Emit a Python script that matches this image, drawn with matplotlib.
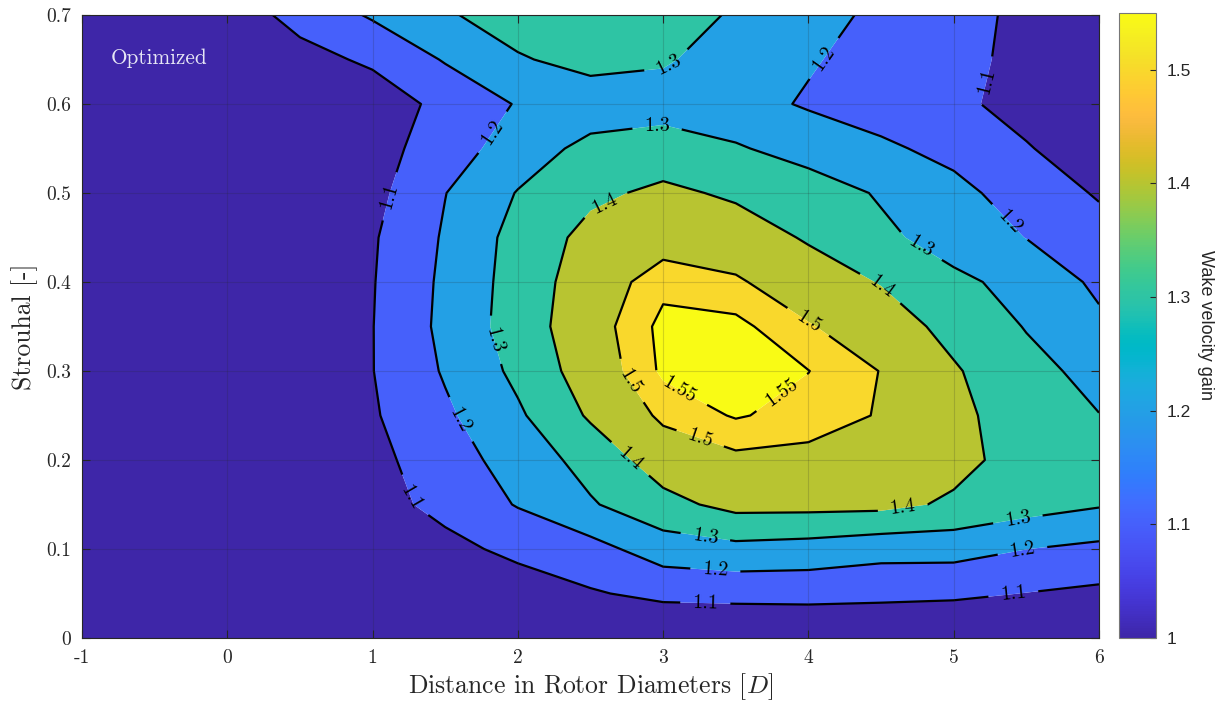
import numpy as np
import matplotlib
matplotlib.use("Agg")
import matplotlib.pyplot as plt
from matplotlib.colors import LinearSegmentedColormap, Normalize
from matplotlib.cm import ScalarMappable

# ---------------- data ----------------
distance = [-1, -0.5, 0, 0.5, 1, 1.5, 2, 2.5, 3, 3.5, 4, 4.5, 5, 5.5, 6]
strouhal = [0.0, 0.05, 0.10, 0.15, 0.20, 0.25, 0.30, 0.35, 0.40, 0.45, 0.50, 0.55, 0.60, 0.65, 0.70]
gain = [
    [1.0, 1.0, 1.0, 1.0, 1.0, 1.0, 1.0, 1.0, 1.0, 1.0, 1.0, 1.0, 1.0, 1.0, 1.0],
    [1.0, 1.0, 1.0, 1.005, 1.01, 1.02, 1.045, 1.091, 1.124, 1.13, 1.133, 1.126, 1.118, 1.098, 1.08],
    [1.0, 1.0, 1.002, 1.01, 1.03, 1.07, 1.126, 1.165, 1.25, 1.272, 1.26, 1.235, 1.236, 1.201, 1.177],
    [1.0, 1.0, 1.003, 1.02, 1.06, 1.131, 1.206, 1.29, 1.37, 1.43, 1.43, 1.427, 1.385, 1.342, 1.309],
    [1.0, 1.0, 1.003, 1.025, 1.072, 1.156, 1.24, 1.337, 1.45, 1.485, 1.48, 1.46, 1.43, 1.36, 1.33],
    [1.0, 1.0, 1.004, 1.03, 1.09, 1.183, 1.285, 1.413, 1.515, 1.555, 1.53, 1.495, 1.42, 1.36, 1.302],
    [1.0, 1.0, 1.005, 1.03, 1.098, 1.21, 1.323, 1.452, 1.56, 1.57, 1.551, 1.498, 1.41, 1.33, 1.27],
    [1.0, 1.0, 1.005, 1.03, 1.098, 1.225, 1.346, 1.467, 1.565, 1.565, 1.506, 1.45, 1.37, 1.295, 1.22],
    [1.0, 1.0, 1.006, 1.03, 1.095, 1.22, 1.341, 1.455, 1.535, 1.51, 1.45, 1.395, 1.32, 1.27, 1.18],
    [1.0, 1.002, 1.008, 1.03, 1.09, 1.211, 1.335, 1.43, 1.465, 1.45, 1.39, 1.32, 1.26, 1.198, 1.14],
    [1.0, 1.003, 1.01, 1.03, 1.07, 1.198, 1.305, 1.38, 1.42, 1.385, 1.35, 1.29, 1.225, 1.16, 1.09],
    [1.0, 1.005, 1.015, 1.035, 1.058, 1.154, 1.245, 1.33, 1.345, 1.31, 1.26, 1.215, 1.175, 1.105, 1.06],
    [1.0, 1.01, 1.02, 1.04, 1.05, 1.125, 1.207, 1.24, 1.26, 1.235, 1.19, 1.16, 1.115, 1.075, 1.05],
    [1.01, 1.02, 1.035, 1.07, 1.115, 1.208, 1.29, 1.335, 1.31, 1.259, 1.209, 1.165, 1.122, 1.08, 1.06],
    [1.02, 1.03, 1.05, 1.13, 1.212, 1.288, 1.35, 1.33, 1.325, 1.294, 1.235, 1.18, 1.131, 1.08, 1.06],
]
contour_levels = [1.1, 1.2, 1.3, 1.4, 1.5, 1.55]
x_ticks = [-1, 0, 1, 2, 3, 4, 5, 6]
x_ticklabels = ["-1", "0", "1", "2", "3", "4", "5", "6"]
y_ticks = [0, 0.1, 0.2, 0.3, 0.4, 0.5, 0.6, 0.7]
y_ticklabels = ["0", "0.1", "0.2", "0.3", "0.4", "0.5", "0.6", "0.7"]
cbar_ticks = [1.0, 1.1, 1.2, 1.3, 1.4, 1.5]
cbar_ticklabels = ["1", "1.1", "1.2", "1.3", "1.4", "1.5"]
clim = (1.0, 1.55)

# label placement (layout)
label_positions = [
    (1.10, 0.497), (1.31, 0.16), (3.29, 0.038), (5.41, 0.05), (5.20, 0.627),
    (1.81, 0.57), (1.59, 0.244), (3.36, 0.078), (5.47, 0.101), (5.34, 0.46), (4.10, 0.652),
    (3.03, 0.645), (2.96, 0.575), (1.82, 0.334), (3.29, 0.113), (5.44, 0.135), (4.77, 0.439),
    (2.58, 0.494), (4.51, 0.396), (2.76, 0.199), (4.65, 0.145),
    (3.99, 0.353), (2.75, 0.286), (3.25, 0.222),
    (3.10, 0.275), (3.82, 0.275),
]

# ---------------- parula colormap ----------------
parula_data = [
    [0.2422, 0.1504, 0.6603], [0.2504, 0.1650, 0.7076], [0.2578, 0.1818, 0.7511],
    [0.2647, 0.1978, 0.7952], [0.2706, 0.2147, 0.8364], [0.2751, 0.2342, 0.8710],
    [0.2783, 0.2559, 0.8991], [0.2803, 0.2782, 0.9221], [0.2813, 0.3006, 0.9414],
    [0.2810, 0.3228, 0.9579], [0.2795, 0.3447, 0.9717], [0.2760, 0.3667, 0.9829],
    [0.2699, 0.3892, 0.9906], [0.2602, 0.4123, 0.9952], [0.2440, 0.4358, 0.9988],
    [0.2206, 0.4603, 0.9973], [0.1963, 0.4847, 0.9892], [0.1834, 0.5074, 0.9798],
    [0.1786, 0.5289, 0.9682], [0.1764, 0.5499, 0.9520], [0.1687, 0.5703, 0.9359],
    [0.1540, 0.5902, 0.9218], [0.1460, 0.6091, 0.9079], [0.1380, 0.6276, 0.8973],
    [0.1248, 0.6459, 0.8883], [0.1113, 0.6635, 0.8763], [0.0952, 0.6798, 0.8598],
    [0.0689, 0.6948, 0.8394], [0.0297, 0.7082, 0.8163], [0.0036, 0.7203, 0.7917],
    [0.0067, 0.7312, 0.7660], [0.0433, 0.7411, 0.7394], [0.0964, 0.7500, 0.7120],
    [0.1408, 0.7584, 0.6842], [0.1717, 0.7670, 0.6554], [0.1938, 0.7758, 0.6251],
    [0.2161, 0.7843, 0.5923], [0.2470, 0.7918, 0.5567], [0.2906, 0.7973, 0.5188],
    [0.3406, 0.8008, 0.4789], [0.3909, 0.8029, 0.4354], [0.4456, 0.8024, 0.3909],
    [0.5044, 0.7993, 0.3480], [0.5616, 0.7942, 0.3045], [0.6174, 0.7876, 0.2612],
    [0.6720, 0.7793, 0.2227], [0.7242, 0.7698, 0.1910], [0.7738, 0.7598, 0.1646],
    [0.8203, 0.7498, 0.1535], [0.8634, 0.7406, 0.1596], [0.9035, 0.7330, 0.1774],
    [0.9393, 0.7288, 0.2100], [0.9728, 0.7298, 0.2394], [0.9956, 0.7434, 0.2371],
    [0.9970, 0.7659, 0.2199], [0.9952, 0.7893, 0.2028], [0.9892, 0.8136, 0.1885],
    [0.9786, 0.8386, 0.1766], [0.9676, 0.8639, 0.1643], [0.9610, 0.8890, 0.1537],
    [0.9597, 0.9135, 0.1423], [0.9628, 0.9373, 0.1265], [0.9691, 0.9606, 0.1064],
    [0.9769, 0.9839, 0.0805],
]
parula = LinearSegmentedColormap.from_list("parula", parula_data, N=256)
norm = Normalize(vmin=clim[0], vmax=clim[1])

# ---------------- plotting ----------------
plt.rcParams["mathtext.fontset"] = "cm"
plt.rcParams["axes.unicode_minus"] = False
serif = "cmr10"
txt = "#262626"

fig = plt.figure(figsize=(12.24, 7.05), dpi=100)
ax = fig.add_axes([82 / 1224, 67 / 705, (1099 - 82) / 1224, (638 - 15) / 705])
cax = fig.add_axes([1119 / 1224, 67 / 705, (1156 - 1119) / 1224, (638 - 13) / 705])

X, Y = np.meshgrid(np.array(distance), np.array(strouhal))
Z = np.array(gain)

fill_levels = [min(Z.min(), clim[0]) - 0.01] + contour_levels + [Z.max() + 0.1]
fill_colors = [parula(norm(v)) for v in [Z.min()] + contour_levels]
ax.contourf(X, Y, Z, levels=fill_levels, colors=fill_colors, antialiased=True)
cs = ax.contour(X, Y, Z, levels=contour_levels, colors="k", linewidths=1.6)
labels = ax.clabel(cs, manual=label_positions, inline=True, inline_spacing=9,
                   fmt=lambda v: f"{v:g}", fontsize=14.5)
for t in labels:
    t.set_family(serif)

ax.set_xlim(-1, 6)
ax.set_ylim(0, 0.7)
ax.set_xticks(x_ticks)
ax.set_xticklabels(x_ticklabels, family=serif, fontsize=14, color=txt)
ax.set_yticks(y_ticks)
ax.set_yticklabels(y_ticklabels, family=serif, fontsize=14, color=txt)
ax.tick_params(direction="in", length=6, width=0.8, top=True, right=True,
               color=txt, pad=8)
ax.set_axisbelow(False)
ax.grid(True, color=(0.15, 0.15, 0.15), alpha=0.18, linewidth=0.8)
for s in ax.spines.values():
    s.set_color(txt)
    s.set_linewidth(0.8)

ax.set_xlabel(r"Distance in Rotor Diameters [$D$]", family=serif, fontsize=18.5,
              color=txt, labelpad=3)
ax.set_ylabel("Strouhal [-]", family=serif, fontsize=18.5, color=txt, labelpad=6)
ax.text(-0.80, 0.651, "Optimized", family=serif, fontsize=15.3, color="#e6e6f5",
        va="center", ha="left")

sm = ScalarMappable(norm=norm, cmap=parula)
cb = fig.colorbar(sm, cax=cax, ticks=cbar_ticks)
cb.ax.set_yticklabels(cbar_ticklabels, family="Liberation Sans", fontsize=12.5,
                      color=txt)
cb.ax.tick_params(direction="in", length=4, width=0.8, color=txt, pad=8)
cb.outline.set_edgecolor("#777777")
cb.outline.set_linewidth(0.8)
cb.set_label("Wake velocity gain", family="Liberation Sans", fontsize=13,
             rotation=270, labelpad=16, color=txt)

fig.savefig("out.png", dpi=100)
